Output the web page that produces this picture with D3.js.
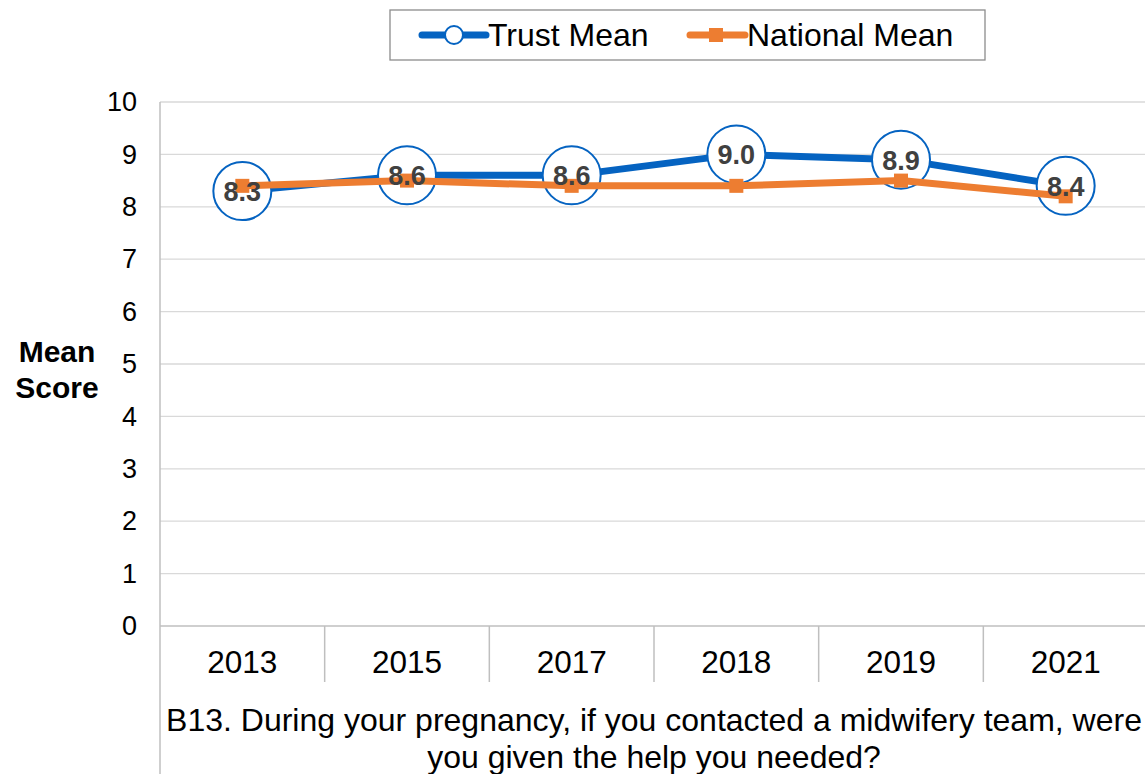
<!DOCTYPE html>
<html><head><meta charset="utf-8">
<script src="https://cdn.jsdelivr.net/npm/d3@7"></script>
<style>body{margin:0;background:#fff}svg{display:block;font-family:Arial,"Liberation Sans",sans-serif}</style>
</head><body>
<svg id="c" width="1145" height="774"></svg>
<script>
const categories = ["2013","2015","2017","2018","2019","2021"];
const trustMean = [8.3, 8.6, 8.6, 9.0, 8.9, 8.4];
const nationalMean = [8.4, 8.5, 8.4, 8.4, 8.5, 8.2];
const yTicks = [0,1,2,3,4,5,6,7,8,9,10];
const seriesNames = ["Trust Mean","National Mean"];
const titleLines = ["B13. During your pregnancy, if you contacted a midwifery team, were","you given the help you needed?"];

const svg = d3.select("#c");
const blue = "#0563C1", orange = "#ED7D31";
const L = 160, R = 1148, T = 102, B = 626;
const x = d3.scaleBand().domain(categories).range([L, R]);
const y = d3.scaleLinear().domain([0, 10]).range([B, T]);

// gridlines
svg.append("g").selectAll("line").data(yTicks.filter(d=>d>0)).join("line")
  .attr("x1", L).attr("x2", 1145).attr("y1", d=>y(d)).attr("y2", d=>y(d))
  .attr("stroke", "#d9d9d9").attr("stroke-width", 1.3);

// y axis
const ya = svg.append("g").attr("transform", `translate(${L},0)`)
  .call(d3.axisLeft(y).tickValues(yTicks).tickSize(0).tickPadding(23));
ya.select(".domain").remove();
ya.selectAll("text").attr("font-size", 27).attr("fill", "#000").attr("font-family", "Arial, 'Liberation Sans', sans-serif");
svg.append("line").attr("x1", L).attr("x2", L).attr("y1", T).attr("y2", 774)
  .attr("stroke", "#bfbfbf").attr("stroke-width", 1.5);
svg.append("line").attr("x1", L).attr("x2", 1145).attr("y1", B).attr("y2", B)
  .attr("stroke", "#bfbfbf").attr("stroke-width", 1.5);

// category dividers
const bounds = categories.slice(1).map(c => x(c));
svg.append("g").selectAll("line").data(bounds).join("line")
  .attr("x1", d=>d).attr("x2", d=>d).attr("y1", B).attr("y2", 682)
  .attr("stroke", "#bfbfbf").attr("stroke-width", 1.5);

// x labels
const xa = svg.append("g").attr("transform", `translate(0,${B})`)
  .call(d3.axisBottom(x).tickSize(0).tickPadding(25));
xa.select(".domain").remove();
xa.selectAll("text").attr("font-size", 31.5).attr("fill", "#000").attr("font-family", "Arial, 'Liberation Sans', sans-serif");

// title lines
svg.append("g").selectAll("text").data(titleLines).join("text")
  .attr("x", (L+R)/2).attr("y", (d,i)=>731 + i*37).attr("text-anchor","middle")
  .attr("font-size", 32).attr("fill","#000").text(d=>d);

// axis title
svg.append("text").attr("x", 57).attr("text-anchor","middle").attr("font-weight","bold")
  .attr("font-size", 30).attr("fill","#000")
  .selectAll("tspan").data(["Mean","Score"]).join("tspan")
  .attr("x", 57).attr("y", (d,i)=>362 + i*36).text(d=>d);

const cx = (c) => x(c) + x.bandwidth()/2;
const line = d3.line().x((d,i)=>cx(categories[i])).y(d=>y(d));

// trust line
svg.append("path").datum(trustMean).attr("d", line).attr("fill","none")
  .attr("stroke", blue).attr("stroke-width", 7).attr("stroke-linejoin","round");
svg.append("g").selectAll("circle").data(trustMean).join("circle")
  .attr("cx",(d,i)=>cx(categories[i])).attr("cy", d=>y(d)).attr("r", 29)
  .attr("fill","#fff").attr("stroke", blue).attr("stroke-width", 2);

// national line
svg.append("path").datum(nationalMean).attr("d", line).attr("fill","none")
  .attr("stroke", orange).attr("stroke-width", 7).attr("stroke-linejoin","round");
svg.append("g").selectAll("rect").data(nationalMean).join("rect")
  .attr("x",(d,i)=>cx(categories[i])-7).attr("y", d=>y(d)-7).attr("width",14).attr("height",14)
  .attr("fill", orange);

// data labels
svg.append("g").selectAll("text").data(trustMean).join("text")
  .attr("x",(d,i)=>cx(categories[i])).attr("y", d=>y(d)+10).attr("text-anchor","middle")
  .attr("font-size", 27).attr("font-weight","bold").attr("fill","#404040")
  .text(d=>d.toFixed(1));

// legend
const lg = svg.append("g");
lg.append("rect").attr("x", 390).attr("y", 10).attr("width", 595).attr("height", 50)
  .attr("fill","#fff").attr("stroke","#8c8c8c").attr("stroke-width",1.3);
lg.append("line").attr("x1",422).attr("x2",486).attr("y1",35).attr("y2",35)
  .attr("stroke",blue).attr("stroke-width",7).attr("stroke-linecap","round");
lg.append("circle").attr("cx",454).attr("cy",35).attr("r",9).attr("fill","#fff").attr("stroke",blue).attr("stroke-width",2);
lg.append("text").attr("x",488).attr("y",46).attr("font-size",32).attr("fill","#000").text(seriesNames[0]);
lg.append("line").attr("x1",690).attr("x2",745).attr("y1",35).attr("y2",35)
  .attr("stroke",orange).attr("stroke-width",7).attr("stroke-linecap","round");
lg.append("rect").attr("x",709).attr("y",28).attr("width",14).attr("height",14).attr("fill",orange);
lg.append("text").attr("x",747).attr("y",46).attr("font-size",32).attr("fill","#000").text(seriesNames[1]);
</script>
</body></html>
